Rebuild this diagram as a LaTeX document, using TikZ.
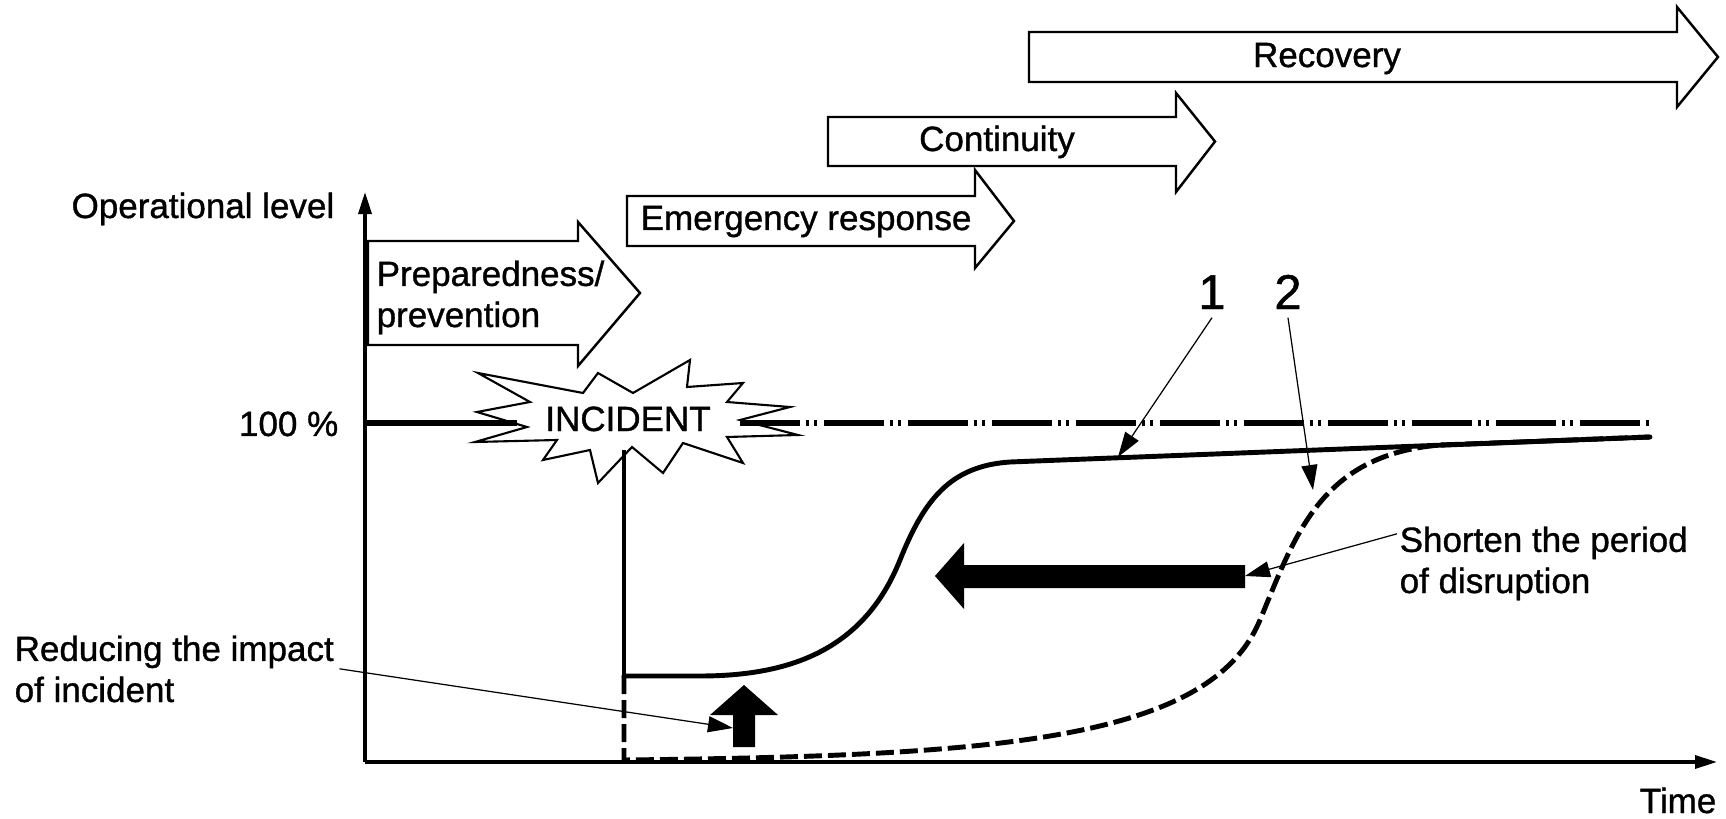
\documentclass[tikz,border=0pt]{standalone}
\usepackage{fontspec}
\setmainfont{Liberation Sans}[FakeBold=1]
\usepackage{tikz}
\usetikzlibrary{arrows.meta,calc}
\definecolor{ink}{HTML}{000000}
\tikzset{
  axis/.style={draw=ink, line width=1pt, -{Triangle[length=2.2mm,width=1.3mm]}},
  phase/.style={draw=ink, fill=white, line width=0.7pt, line join=miter},
  lvl/.style={draw=ink, line width=1.5pt},
  dashdot/.style={lvl, dash pattern=on 6mm off 0.6mm on 0.3mm off 0.5mm on 0.3mm off 0.7mm},
  cur/.style={draw=ink, line width=1.4pt, line cap=round, line join=round},
  curdash/.style={draw=ink, line width=1.4pt, dash pattern=on 1.8mm off 0.6mm},
  lead/.style={draw=ink, line width=0.35pt, -{Triangle[length=2.5mm,width=1.6mm]}},
  fat/.style={fill=ink},
  burst/.style={draw=ink, fill=white, line width=0.6pt, line join=miter},
  lab/.style={font=\fontsize{9.96}{11.7}\selectfont, inner sep=0pt, align=left},
  num/.style={font=\fontsize{13.9}{16}\selectfont, inner sep=0.8mm},
}
\begin{document}
\begin{tikzpicture}[x=0.1mm,y=-0.1mm]
  \useasboundingbox (0,0) rectangle (1726,819);
  \coordinate (org) at (365,762);
  \coordinate (ytop) at (365,192);
  \coordinate (xend) at (1717,762);
  \coordinate (i0) at (624,450);
  \coordinate (i1) at (624,676);
  \coordinate (i2) at (624,760);
  \coordinate (c1) at (1118,457);
  \coordinate (c2) at (1313,490);
  \coordinate (sh) at (1245,576);
  \coordinate (up) at (733,728);
  \foreach \xa/\xb/\xc/\ya/\yb/\yc/\yd in {368/578/640/241/345/222/366, 627/975/1014/196/246/170/268,
      828/1176/1215/117/166/93/192, 1029/1677/1718/32/82/7/107}
    \draw[phase] (\xa,\ya) -- (\xb,\ya) -- (\xb,\yc) -- (\xc,{(\ya+\yb)/2}) -- (\xb,\yd) -- (\xb,\yb) -- (\xa,\yb) -- cycle;
  \node[lab, anchor=base west] (prep) at (376,327) {Preparedness/\\prevention};
  \node[lab, anchor=base west] (emer) at (640,230) {Emergency response};
  \node[lab, anchor=base] (cont) at (997,151) {Continuity};
  \node[lab, anchor=base] (reco) at (1327,67) {Recovery};
  \draw[burst] plot coordinates {(478,373) (583,393) (598,373) (633,393) (690,360) (687,387) (743,383)
    (727,402) (790,407) (740,420) (798,435) (727,437) (743,463) (683,443) (663,473) (632,447) (598,483)
    (590,450) (543,460) (557,440) (475,442) (527,427) (477,412) (530,402)} -- cycle;
  \node[lab, anchor=base] (inc) at (628,431) {INCIDENT};
  \draw[lvl] (org |- 0,423) -- (517,423);
  \draw[dashdot] (740,423) -- (1650,423);
  \draw[draw=ink, line width=1.1pt] (i0) -- (i1);
  \draw[cur] (i1) -- (700,676) .. controls (790,676) and (864,650) .. (900,560)
    .. controls (924,500) and (950,466) .. (1010,462) -- (1650,437);
  \draw[curdash] (i1) -- (i2) .. controls (1000,756) and (1210,740) .. (1260,620)
    .. controls (1295,536) and (1320,455) .. (1440,445) -- (1650,437);
  \fill[fat] (935,576) -- (964,543) -- (964,565) -- (sh |- 0,565) -- (sh |- 0,588) -- (964,588) -- (964,609) -- cycle;
  \fill[fat] (744,685) -- (778,715) -- (755,715) -- (755,747) -- (up |- 0,747) -- (up |- 0,715) -- (710,715) -- cycle;
  \draw[axis] (org) -- (ytop);
  \draw[axis] (org) -- (xend);
  \node[lab, anchor=base east] (ylab) at (335,218) {Operational level};
  \node[lab, anchor=base east] (full) at (339,436) {100 \%};
  \node[lab, anchor=base east] (time) at (1717,813) {Time};
  \node[num, anchor=base] (n1) at (1212,309) {1};
  \node[num, anchor=base] (n2) at (1288,309) {2};
  \node[lab, anchor=base west] (short) at (1399,593) {Shorten the period\\of disruption};
  \node[lab, anchor=base west] (reduce) at (14,702) {Reducing the impact\\of incident};
  \draw[lead] ([shift={(-0.2mm,-0.8mm)}]short.north west) -- (sh);
  \draw[lead] ([shift={(0.5mm,-3.4mm)}]reduce.north east) -- (up);
  \draw[lead] (n1.south) -- (c1);
  \draw[lead] (n2.south) -- (c2);
\end{tikzpicture}
\end{document}
